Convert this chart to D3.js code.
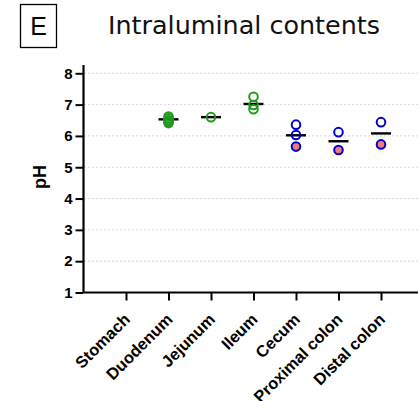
<!DOCTYPE html>
<html>
<head>
<meta charset="utf-8">
<script src="https://cdn.jsdelivr.net/npm/d3@7"></script>
<style>
  body { margin: 0; background: #fff; }
  svg { display: block; }
</style>
</head>
<body>
<svg id="chart" width="418" height="401"></svg>
<script>
// Chart data
const categories = ["Stomach", "Duodenum", "Jejunum", "Ileum", "Cecum", "Proximal colon", "Distal colon"];
const openValues = [[], [6.62, 6.56, 6.5, 6.45, 6.41], [6.6], [7.25, 6.99, 6.85], [6.36, 6.03], [6.12], [6.44]];
const filledValues = [[], [], [], [], [5.66], [5.55], [5.73]];
const meanValues = [null, 6.53, 6.6, 7.02, 6.02, 5.83, 6.08];
const yTicks = [1, 2, 3, 4, 5, 6, 7, 8];

const svg = d3.select("#chart");

// Scales
const xScale = d3.scalePoint().domain(categories).range([126, 381]);
const yScale = d3.scaleLinear().domain([1, 8]).range([292.5, 73.3]);

// Circle stroke colour: small intestine green, large intestine blue
const strokeColor = (i) => (i <= 3 ? "#1f9a1f" : "#0000cc");

// Gridlines
svg.append("g")
  .selectAll("line")
  .data(yTicks.filter((t) => t > 1))
  .enter()
  .append("line")
  .attr("x1", 84)
  .attr("x2", 418)
  .attr("y1", (d) => yScale(d))
  .attr("y2", (d) => yScale(d))
  .attr("stroke", "#d8d8d8")
  .attr("stroke-width", 1)
  .attr("stroke-dasharray", "2,2");

// Y axis
const yAxis = svg.append("g")
  .attr("transform", "translate(83.5,0)")
  .call(d3.axisLeft(yScale).tickValues(yTicks).tickFormat(d3.format("d")).tickSize(8).tickPadding(3));
yAxis.select(".domain").attr("d", `M0,65V${yScale(1)}`).attr("stroke-width", 2.2);
yAxis.selectAll(".tick line").attr("stroke-width", 2);
yAxis.selectAll("text")
  .style("font-family", "Liberation Sans, Arial, sans-serif")
  .style("font-weight", "bold")
  .style("font-size", "15px")
  .attr("fill", "#000");

// X axis
const xAxis = svg.append("g")
  .attr("transform", `translate(0,${yScale(1)})`)
  .call(d3.axisBottom(xScale).tickSize(8).tickFormat(""));
xAxis.select(".domain").attr("d", "M83.5,0H418").attr("stroke-width", 2.2);
xAxis.selectAll(".tick line").attr("stroke-width", 2);

// Rotated category labels
svg.append("g")
  .selectAll("text")
  .data(categories)
  .enter()
  .append("text")
  .attr("transform", (d) => `translate(${xScale(d) + 5},${yScale(1) + 28}) rotate(-45)`)
  .attr("text-anchor", "end")
  .style("font-family", "Liberation Sans, Arial, sans-serif")
  .style("font-weight", "bold")
  .style("font-size", "16.4px")
  .text((d) => d);

// Y axis label
svg.append("text")
  .attr("transform", "translate(46,177) rotate(-90)")
  .attr("text-anchor", "middle")
  .style("font-family", "Liberation Sans, Arial, sans-serif")
  .style("font-weight", "bold")
  .style("font-size", "18px")
  .text("pH");

// Mean lines
svg.append("g")
  .selectAll("line")
  .data(meanValues.map((m, i) => ({ m, c: categories[i] })).filter((d) => d.m !== null))
  .enter()
  .append("line")
  .attr("x1", (d) => xScale(d.c) - 10)
  .attr("x2", (d) => xScale(d.c) + 10)
  .attr("y1", (d) => yScale(d.m))
  .attr("y2", (d) => yScale(d.m))
  .attr("stroke", "#000")
  .attr("stroke-width", 2.4);

// Points
const points = [];
categories.forEach((c, i) => {
  openValues[i].forEach((v) => points.push({ c, v, i, filled: false }));
  filledValues[i].forEach((v) => points.push({ c, v, i, filled: true }));
});

svg.append("g")
  .selectAll("circle")
  .data(points)
  .enter()
  .append("circle")
  .attr("cx", (d) => xScale(d.c))
  .attr("cy", (d) => yScale(d.v))
  .attr("r", 4.3)
  .attr("fill", (d) => (d.filled ? "#f47a7a" : "none"))
  .attr("stroke", (d) => strokeColor(d.i))
  .attr("stroke-width", 2);

// Panel letter
svg.append("rect")
  .attr("x", 20.5)
  .attr("y", 4.5)
  .attr("width", 36)
  .attr("height", 43)
  .attr("fill", "none")
  .attr("stroke", "#000")
  .attr("stroke-width", 1.3);

svg.append("text")
  .attr("x", 38.5)
  .attr("y", 35)
  .attr("text-anchor", "middle")
  .style("font-family", "Liberation Sans, Arial, sans-serif")
  .style("font-size", "25px")
  .text("E");

// Title
svg.append("text")
  .attr("x", 108)
  .attr("y", 34)
  .attr("textLength", 272)
  .attr("lengthAdjust", "spacingAndGlyphs")
  .style("font-family", "DejaVu Sans, Verdana, sans-serif")
  .style("font-size", "24px")
  .attr("fill", "#111")
  .text("Intraluminal contents");
</script>
</body>
</html>
